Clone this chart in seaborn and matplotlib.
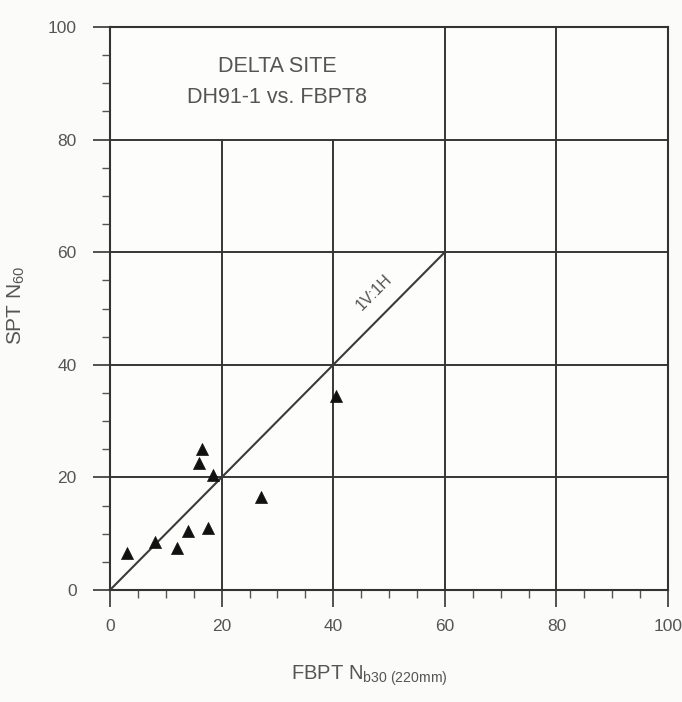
import matplotlib
matplotlib.use("Agg")
import matplotlib.pyplot as plt
import seaborn as sns
import pandas as pd
from matplotlib.ticker import MultipleLocator

# FBPT blow counts vs. SPT N60 measured at the Delta site
fbpt_nb30 = [3, 8, 12, 14, 17.5, 16, 16.5, 18.5, 27, 40.5]
spt_n60 = [6.5, 8.5, 7.5, 10.5, 11, 22.5, 25, 20.5, 16.5, 34.5]

# 1V:1H reference line
ref_x = [0, 60]
ref_y = [0, 60]

x_ticks = [0, 20, 40, 60, 80, 100]
y_ticks = [0, 20, 40, 60, 80, 100]

sns.set_theme(style="white")
plt.rcParams["font.family"] = ["Liberation Sans", "DejaVu Sans"]
plt.rcParams["mathtext.fontset"] = "custom"
plt.rcParams["mathtext.rm"] = "Liberation Sans"
plt.rcParams["mathtext.it"] = "Liberation Sans"

GRID = "#363636"
TXT = "#555555"

fig = plt.figure(figsize=(6.82, 7.02), dpi=100)
fig.patch.set_facecolor("#fbfbfa")
ax = fig.add_axes([110 / 682, 1 - 590 / 702, 558 / 682, 563 / 702])
ax.set_facecolor("#fdfdfc")

df = pd.DataFrame({"x": fbpt_nb30, "y": spt_n60})
ref = pd.DataFrame({"x": ref_x, "y": ref_y})

# grid: the upper-left cell (x 0-60, y 80-100) is left open as a title box
for gx in (20, 40):
    ax.axvline(gx, ymin=0, ymax=0.8, color=GRID, linewidth=1.4, zorder=1)
for gx in (60, 80):
    ax.axvline(gx, color=GRID, linewidth=1.4, zorder=1)
for gy in (20, 40, 60, 80):
    ax.axhline(gy, color=GRID, linewidth=1.4, zorder=1)

sns.lineplot(data=ref, x="x", y="y", ax=ax, color="#3a3a3a", linewidth=1.5, zorder=3)
sns.scatterplot(data=df, x="x", y="y", ax=ax, marker="^", s=75, color="#111111",
                edgecolor="#111111", linewidth=0.5, zorder=4)

ax.set_xlim(0, 100)
ax.set_ylim(0, 100)
ax.set_xticks(x_ticks)
ax.set_yticks(y_ticks)
ax.xaxis.set_minor_locator(MultipleLocator(5))
ax.yaxis.set_minor_locator(MultipleLocator(5))
ax.grid(False)

for s in ax.spines.values():
    s.set_visible(True)
    s.set_color("#333333")
    s.set_linewidth(1.5)

ax.tick_params(which="major", direction="out", length=12, width=1.3,
               color="#444444", labelcolor=TXT, labelsize=12.5,
               bottom=True, left=True)
ax.tick_params(axis="x", which="major", pad=9)
ax.tick_params(axis="y", which="major", pad=12)
ax.tick_params(which="minor", direction="out", length=6, width=1.0,
               color="#555555", bottom=True, left=True)

ax.set_xlabel(r"FBPT N$_{\mathrm{b30\ (220mm)}}$", fontsize=14.5, color=TXT)
ax.set_ylabel(r"SPT N$_{60}$", fontsize=15, color=TXT)
ax.xaxis.set_label_coords(0.465, -0.13)
ax.yaxis.set_label_coords(-0.148, 0.505)

ax.text(30, 93.0, "DELTA SITE", ha="center", va="center", fontsize=15.5, color=TXT)
ax.text(30, 87.4, "DH91-1 vs. FBPT8", ha="center", va="center", fontsize=15.5, color=TXT)
ax.text(47.3, 52.8, "1V:1H", ha="center", va="center", rotation=45, fontsize=11.5,
        color=TXT)

fig.savefig("out.png", dpi=100, facecolor=fig.get_facecolor())
